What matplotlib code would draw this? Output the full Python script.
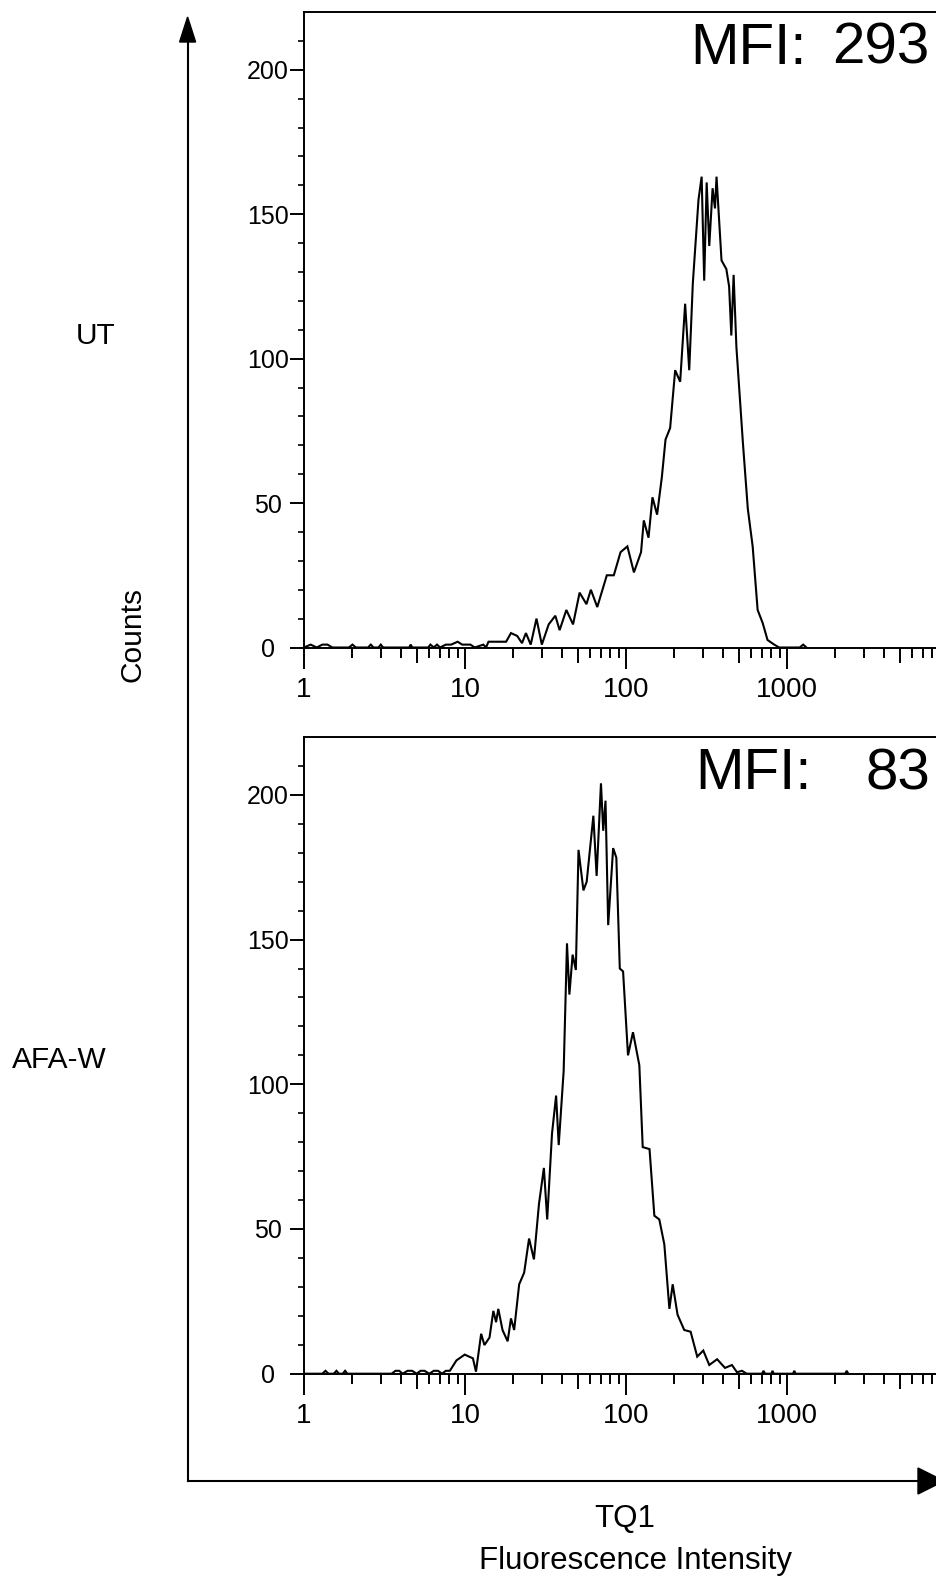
import matplotlib
matplotlib.use("Agg")
import matplotlib.pyplot as plt
import matplotlib.font_manager as fm
from matplotlib.ticker import FixedLocator, FixedFormatter, NullFormatter
from matplotlib.patches import Polygon

plt.rcParams["font.family"] = ["Liberation Sans", "DejaVu Sans"]

W, H = 937, 1581  # output size in px (dpi 100)

# ── data (TQ1 intensity, counts) ─────────────────────────────────────────────
ut_intensity = [1.0, 1.1, 1.2, 1.3, 1.4, 1.5, 1.9, 2.0, 2.1, 2.5,
                2.6, 2.7, 2.9, 3.0, 3.1, 4.5, 4.6, 4.7, 5.9, 6.1,
                6.4, 6.7, 7.0, 7.6, 8.2, 9.0, 9.6, 10.8, 11.5, 13.0,
                13.5, 14.0, 16.0, 18.0, 19.3, 21.1, 22.6, 23.9, 25.6, 27.8,
                30.0, 33.1, 36.4, 38.7, 42.6, 46.9, 51.5, 56.8, 60.5, 66.3,
                76, 84, 92.5, 102, 112, 124, 129, 138, 146, 156,
                167, 176, 188, 202, 217, 233, 247, 260, 282, 295,
                306, 317, 329, 345, 357, 365, 392, 420, 437, 451,
                466, 485, 532, 571, 612, 657, 706, 757, 833, 894,
                1200, 1260, 1320]
ut_counts = [0, 1, 0, 1, 1, 0, 0, 1, 0, 0,
             1, 0, 0, 1, 0, 0, 1, 0, 0, 1,
             0, 1, 0, 1, 1, 2, 1, 1, 0, 1,
             0, 2, 2, 2, 5, 4, 1.5, 5, 1, 10,
             1, 8, 11, 6, 13, 8, 19, 15, 20, 14,
             25, 25, 33, 35, 26, 33, 44, 38, 52, 46,
             59, 72, 76, 96, 92, 119, 96, 126, 155, 163,
             127, 161, 139, 159, 152, 163, 134, 131, 125, 108,
             129, 104, 71, 48, 35, 13, 8.5, 2.6, 1, 0,
             0, 1, 0]

afa_intensity = [1.0, 1.3, 1.36, 1.42, 1.53, 1.59, 1.65, 1.74, 1.80, 1.86,
                 3.5, 3.7, 3.9, 4.1, 4.4, 4.7, 5.0, 5.3, 5.6, 6.0,
                 6.4, 6.8, 7.2, 7.6, 8.05, 8.85, 9.96, 11.2, 11.7, 12.6,
                 13.2, 14.2, 15.0, 15.6, 16.1, 17.1, 18.4, 19.3, 20.2, 21.7,
                 23.3, 25.0, 26.8, 28.8, 30.9, 32.4, 34.7, 36.8, 38.2, 41.0,
                 43.0, 44.5, 46.6, 48.8, 50.7, 54.4, 57.0, 62.7, 65.7, 69.9,
                 72.2, 74.6, 77.5, 83.2, 87.1, 91.5, 95.9, 102.9, 110.5, 121,
                 127, 140, 150, 161, 173, 186, 195, 209, 230, 252,
                 277, 302, 329, 368, 412, 455, 489, 525, 562, 700,
                 715, 730, 800, 813, 826, 1090, 1110, 1130, 2300, 2350,
                 2400]
afa_counts = [0, 0, 1, 0, 0, 1, 0, 0, 1, 0,
              0, 1, 1, 0, 1, 1, 0, 1, 1, 0,
              1, 1, 0, 1, 1, 4.6, 6.6, 5.3, 0.7, 13.8,
              9.9, 12.5, 21.7, 17.8, 22.4, 15.1, 11.2, 19.1, 15.1, 30.9,
              34.9, 46.7, 39.5, 58.6, 71.1, 53.3, 82.9, 96.1, 79, 104.6,
              148.7, 131, 144.8, 139.5, 181, 167, 170, 192.8, 172, 204,
              187.6, 198, 155, 181.6, 178.3, 140, 139, 110, 118, 106.6,
              78.3, 77.6, 54.6, 53.3, 44.7, 22.4, 30.9, 20.4, 15.1, 14.5,
              5.9, 8, 3, 5, 2, 3, 0.5, 1, 0, 0,
              1, 0, 0, 1, 0, 0, 1, 0, 0, 1,
              0]

sample_names = ["UT", "AFA-W"]
mfi_values = [293, 83]
x_decades = [1, 10, 100, 1000, 10000]
x_decade_labels = ["1", "10", "100", "1000", ""]
y_major = [0, 50, 100, 150, 200]


def px_box(left, top, right, bottom):
    """pixel box (top-left origin) -> figure fraction rect"""
    return [left / W, 1 - bottom / H, (right - left) / W, (bottom - top) / H]


# tick digits in the original are a bit condensed
_names = {f.name for f in fm.fontManager.ttflist}
if "Liberation Sans Narrow" in _names:
    ytick_font, ytick_size = "Liberation Sans Narrow", 20.5
else:
    ytick_font, ytick_size = "Liberation Sans", 18

fig = plt.figure(figsize=(W / 100, H / 100), dpi=100)
fig.patch.set_facecolor("white")

AX_X0 = 304
DEC = 161
panel_boxes = [(12, 647.5), (737, 1373.7)]
mfi_baselines = [63.5, 789]
mfi_left = [690, 695]
name_pos = [(96, 336), (59, 1060)]
series = [(ut_intensity, ut_counts), (afa_intensity, afa_counts)]

for i, (top, bot) in enumerate(panel_boxes):
    ax = fig.add_axes(px_box(AX_X0, top, AX_X0 + 4 * DEC, bot))
    xs, ys = series[i]
    ax.plot(xs, ys, color="black", lw=1.5, solid_joinstyle="miter")
    ax.set_xscale("log")
    ax.set_xlim(1, 1e4)
    ax.set_ylim(0, 220)
    ax.spines["right"].set_visible(False)
    for s in ("left", "top", "bottom"):
        ax.spines[s].set_linewidth(1.4)

    ax.xaxis.set_major_locator(FixedLocator(x_decades))
    ax.xaxis.set_major_formatter(FixedFormatter(x_decade_labels))
    minors = [m * d for d in x_decades[:-1] for m in range(2, 10)]
    ax.xaxis.set_minor_locator(FixedLocator(minors))
    ax.xaxis.set_minor_formatter(NullFormatter())
    ax.yaxis.set_major_locator(FixedLocator(y_major))
    ax.yaxis.set_minor_locator(FixedLocator(list(range(10, 220, 10))))

    ax.tick_params(axis="x", which="major", direction="out", length=15, width=1.4,
                   labelsize=20, pad=6)
    ax.tick_params(axis="x", which="minor", direction="out", length=7, width=1.4)
    ax.tick_params(axis="y", which="major", direction="out", length=10, width=1.4,
                   labelsize=ytick_size, pad=16)
    ax.tick_params(axis="y", which="minor", direction="out", length=4, width=1.2)
    for lab in ax.get_yticklabels():
        lab.set_horizontalalignment("center")
        lab.set_fontfamily([ytick_font, "Liberation Sans"])
    # fives get a medium tick
    for loc, t in zip(minors, ax.xaxis.get_minor_ticks()):
        if str(int(loc))[0] == "5":
            t.tick1line.set_markersize(11)

# overlay in pixel coords for outer arrows / labels, above the panels
ov = fig.add_axes([0, 0, 1, 1])
ov.set_xlim(0, W)
ov.set_ylim(H, 0)
ov.axis("off")
ov.set_zorder(10)

for i in range(2):
    ov.text(mfi_left[i], mfi_baselines[i], "MFI:", fontsize=42, ha="left", va="baseline")
    ov.text(930, mfi_baselines[i], str(mfi_values[i]), fontsize=42, ha="right", va="baseline")
    ov.text(name_pos[i][0], name_pos[i][1], sample_names[i], fontsize=21.5,
            ha="center", va="center")

# outer axes arrows
AX_LX, AX_BY = 187.6, 1481
ov.plot([AX_LX, AX_LX], [AX_BY, 36], color="black", lw=1.5)
ov.plot([AX_LX, 925], [AX_BY, AX_BY], color="black", lw=1.5)
ov.add_patch(Polygon([[AX_LX, 17], [AX_LX - 8, 42], [AX_LX + 8, 42]], closed=True,
                     color="black"))
ov.add_patch(Polygon([[944, AX_BY], [918, AX_BY - 13], [918, AX_BY + 13]], closed=True,
                     color="black"))

ov.text(133, 634, "Counts", fontsize=21.5, rotation=90, ha="center", va="center")
ov.text(625, 1519, "TQ1", fontsize=22.5, ha="center", va="center")
ov.text(636, 1561, "Fluorescence Intensity", fontsize=22.5, ha="center", va="center")

fig.savefig("out.png", dpi=100, facecolor="white")
